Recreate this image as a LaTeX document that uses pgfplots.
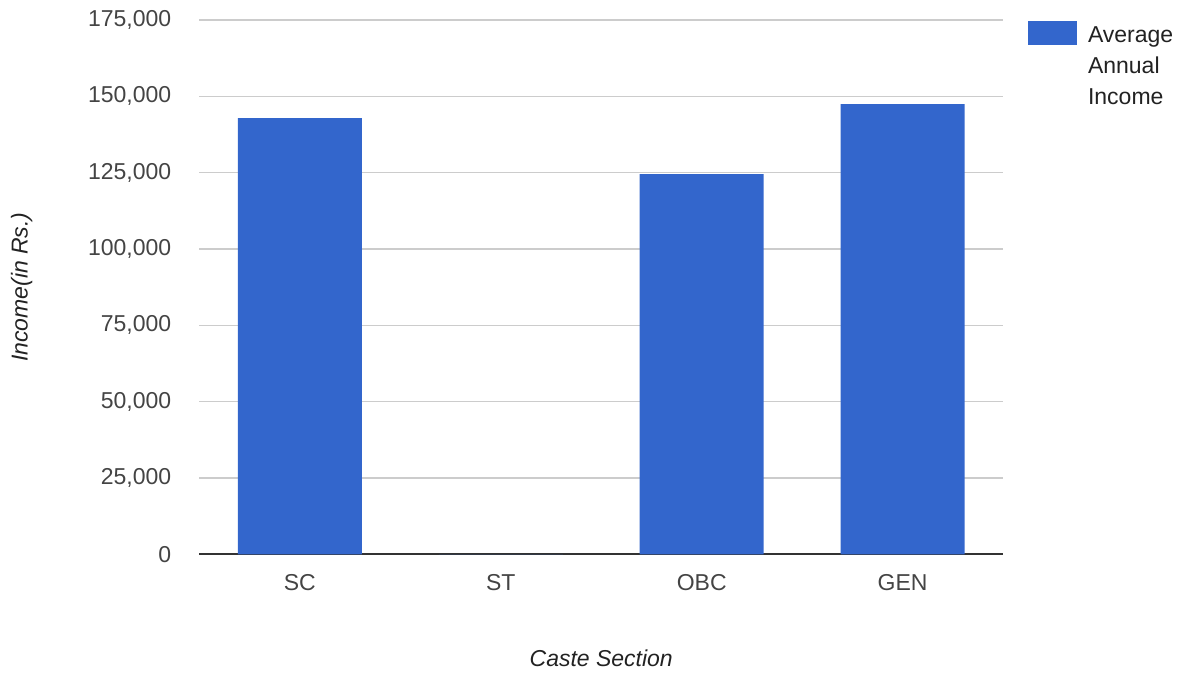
\documentclass[border=0pt]{standalone}
\usepackage{fontspec}
\setmainfont{Liberation Sans}
\usepackage{pgfplots}
\pgfplotsset{compat=1.18}
\definecolor{barblue}{HTML}{3366CC}
\definecolor{gridgray}{HTML}{CCCCCC}
\definecolor{axisdark}{HTML}{333333}
\definecolor{ticktext}{HTML}{444444}
\definecolor{labeltext}{HTML}{222222}
\begin{document}
\begin{tikzpicture}
\begin{axis}[
  at={(199.5pt,120.3pt)}, anchor=south west,
  scale only axis, width=804pt, height=534.7pt,
  font=\fontsize{23}{28}\selectfont,
  set layers=standard,
  ybar, bar width=124pt, bar shift=0pt,
  xmin=-0.5, xmax=3.5,
  ymin=0, ymax=175000,
  xtick={0,1,2,3},
  xticklabels={SC,ST,OBC,GEN},
  ytick={0,25000,50000,75000,100000,125000,150000,175000},
  scaled y ticks=false,
  yticklabel style={anchor=east, inner sep=0pt, xshift=-28pt, text=ticktext,
    /pgf/number format/fixed, /pgf/number format/1000 sep={,}, /pgf/number format/assume math mode=true},
  xticklabel style={anchor=north, inner sep=0pt, yshift=-20pt, text=ticktext},
  major tick length=0pt,
  axis x line*=bottom, axis y line*=left,
  y axis line style={draw=none},
  x axis line style={draw=axisdark, line width=2pt},
  ymajorgrids, grid style={gridgray, line width=1.3pt},
  xlabel={\itshape Caste Section},
  ylabel={\itshape Income(in Rs.)},
  xlabel style={at={(axis description cs:0.5,-0.1777)}, anchor=north, inner sep=0pt, text=labeltext},
  ylabel style={at={(axis description cs:-0.2077,0.5)}, anchor=south, inner sep=0pt, text=labeltext},
  legend style={at={(rel axis cs:1,1)}, anchor=north west, xshift=25pt, yshift=-1pt, draw=none, fill=none,
    inner sep=0pt, outer sep=0pt, font=\fontsize{23}{31}\selectfont, text=labeltext,
    legend cell align=left, /tikz/every odd column/.append style={column sep=9pt}},
  legend image code/.code={\fill[barblue] (0pt,-10pt) rectangle (49pt,14pt);},
]
\addplot[fill=barblue, draw=none] coordinates {(0,142900) (1,0) (2,124570) (3,147480)};
\addlegendentry{\parbox[t]{90pt}{\baselineskip=31pt Average\\Annual\\Income}}
\end{axis}
\path[use as bounding box] (0pt,0pt) rectangle (1180pt,675pt);
\end{tikzpicture}
\end{document}
